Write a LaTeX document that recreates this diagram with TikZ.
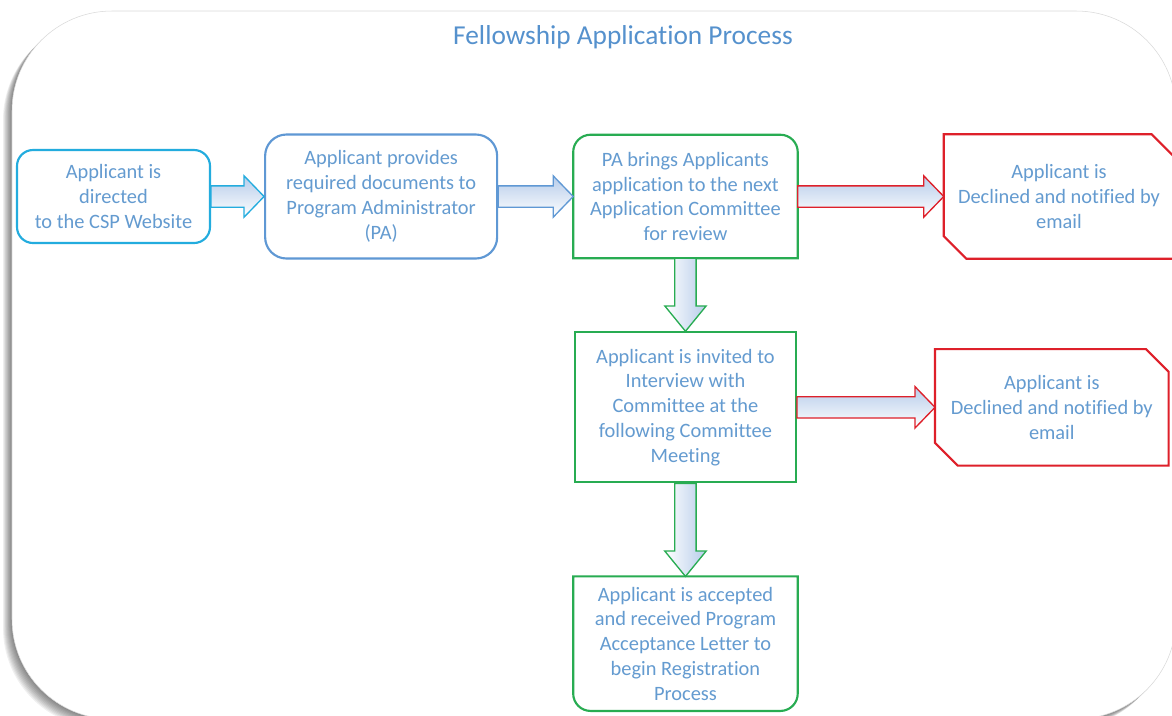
\documentclass[tikz,border=0pt]{standalone}
\usepackage{fontspec}
\setmainfont{Carlito}[Ligatures=NoCommon]
\usetikzlibrary{positioning, calc}
\definecolor{txtblue}{RGB}{100,155,208}
\definecolor{titleblue}{RGB}{85,145,205}
\definecolor{cspcyan}{RGB}{35,172,222}
\definecolor{pablue}{RGB}{95,152,212}
\definecolor{stepgreen}{RGB}{40,172,82}
\definecolor{declred}{RGB}{222,32,42}
\definecolor{arrowfill}{RGB}{182,204,234}
\tikzset{
  stage/.style={align=center, text=txtblue, font=\fontsize{15.3}{18.6}\selectfont, inner sep=2pt},
  framed/.style={draw=#1, line width=1.6pt},
  blockarrow/.style={draw=#1, line width=1pt},
}
% horizontal block arrow between two nodes
\newcommand{\sidearrow}[3]{%
  \path[blockarrow=#3, top color=arrowfill, bottom color=white]
    let \p1=(#1.east), \p2=(#2.west) in
    (\x1,\y1+8pt) -- (\x2-15pt,\y1+8pt) -- (\x2-15pt,\y1+15.5pt) -- (\x2,\y1)
    -- (\x2-15pt,\y1-15.5pt) -- (\x2-15pt,\y1-8pt) -- (\x1,\y1-8pt) -- cycle;}
% vertical block arrow between two nodes
\newcommand{\droparrow}[3]{%
  \path[blockarrow=#3, left color=white, right color=arrowfill]
    let \p1=(#1.south), \p2=(#2.north) in
    (\x1-8pt,\y1) -- (\x1-8pt,\y2+19pt) -- (\x1-15.5pt,\y2+19pt) -- (\x1,\y2)
    -- (\x1+15.5pt,\y2+19pt) -- (\x1+8pt,\y2+19pt) -- (\x1+8pt,\y1) -- cycle;}
% box outlines
\newcommand{\topround}[2]{%
  \draw[framed=#2] (#1.south west) -- ([yshift=-13pt]#1.north west)
    arc[start angle=180, end angle=90, radius=13pt] -- ([xshift=-13pt]#1.north east)
    arc[start angle=90, end angle=0, radius=13pt] -- (#1.south east) -- cycle;}
\newcommand{\bottomround}[2]{%
  \draw[framed=#2] (#1.north west) -- ([yshift=13pt]#1.south west)
    arc[start angle=180, end angle=270, radius=13pt] -- ([xshift=-13pt]#1.south east)
    arc[start angle=270, end angle=360, radius=13pt] -- (#1.north east) -- cycle;}
\newcommand{\snipframe}[2]{%
  \draw[framed=#2] (#1.north west) -- ([xshift=-17pt]#1.north east) -- ([yshift=-17pt]#1.north east)
    -- (#1.south east) -- ([xshift=17pt]#1.south west) -- ([yshift=17pt]#1.south west) -- cycle;}

\begin{document}
\begin{tikzpicture}[x=0.75pt, y=-0.75pt]
  \useasboundingbox (0,0) rectangle (1172,715);
  \clip (0,0) rectangle (1172,715);

  % Page frame with soft shadow
  \foreach \s in {1,...,10}
    \fill[black, opacity=0.06, rounded corners=75pt] (12-\s*0.9,11+\s*0.9) rectangle (1176-\s*0.9,719+\s*0.9);
  \draw[draw=black!15, fill=white, rounded corners=75pt] (12,11) rectangle (1176,719);

  \node[font=\fontsize{20.5}{24}\selectfont, text=titleblue] (title) at (623,37) {Fellowship Application Process};

  % Nodes
  \node[stage, framed=cspcyan, rounded corners=12pt, minimum width=144.75pt, minimum height=69.75pt] (website) at (113.5,196.5)
    {Applicant is\\directed\\to the CSP Website};
  \node[stage, framed=pablue, rounded corners=16pt, minimum width=174pt, minimum height=93pt, right=39.75pt of website] (documents)
    {Applicant provides\\required documents to\\Program Administrator\\(PA)};
  \node[stage, minimum width=168pt, minimum height=92.25pt, right=56.25pt of documents] (review)
    {PA brings Applicants\\application to the next\\Application Committee\\for review};
  \node[stage, minimum width=172.5pt, minimum height=93pt, right=109.5pt of review] (declineA)
    {Applicant is\\Declined and notified by\\email};
  \node[stage, framed=stepgreen, minimum width=165.75pt, minimum height=112.5pt, below=54.75pt of review] (interview)
    {Applicant is invited to\\Interview with\\Committee at the\\following Committee\\Meeting};
  \node[stage, minimum width=174.75pt, minimum height=87pt, right=103.5pt of interview] (declineB)
    {Applicant is\\Declined and notified by\\email};
  \node[stage, minimum width=168pt, minimum height=100.5pt, below=69.75pt of interview] (accepted)
    {Applicant is accepted\\and received Program\\Acceptance Letter to\\begin Registration\\Process};

  \topround{review}{stepgreen}
  \bottomround{accepted}{stepgreen}
  \snipframe{declineA}{declred}
  \snipframe{declineB}{declred}

  % Arrows
  \sidearrow{website}{documents}{cspcyan}
  \sidearrow{documents}{review}{pablue}
  \sidearrow{review}{declineA}{declred}
  \droparrow{review}{interview}{stepgreen}
  \sidearrow{interview}{declineB}{declred}
  \droparrow{interview}{accepted}{stepgreen}
\end{tikzpicture}
\end{document}
